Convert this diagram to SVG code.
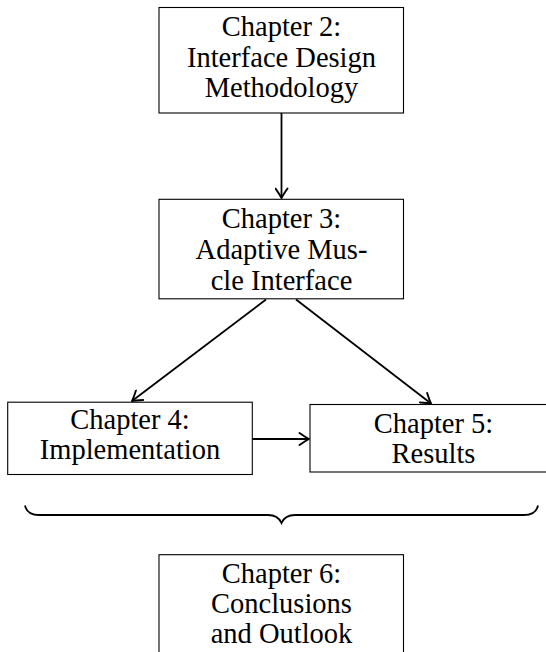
<svg xmlns="http://www.w3.org/2000/svg" width="546" height="652" viewBox="0 0 546 652">
<style>
.box{fill:#fff;stroke:#000;stroke-width:1.1}
.t{font-family:'Liberation Serif','Times New Roman',serif;font-size:28.5px;fill:#000;text-anchor:middle}
.edge{fill:none;stroke:#000;stroke-width:1.8}
</style>
<defs>
<marker id="arr" markerUnits="userSpaceOnUse" markerWidth="14" markerHeight="14" viewBox="-11 -7 14 14" refX="0" refY="0" orient="auto">
<path d="M-9.5,-6 Q-3,-1.5 0,0 Q-3,1.5 -9.5,6" fill="none" stroke="#000" stroke-width="1.9" stroke-linecap="round" stroke-linejoin="round"/>
</marker>
</defs>
<rect width="546" height="652" fill="#fff"/>
<g id="connectors">
<line class="edge" x1="281.5" y1="113" x2="281.5" y2="198" marker-end="url(#arr)"/>
<line class="edge" x1="266" y1="299.5" x2="132" y2="401" marker-end="url(#arr)"/>
<line class="edge" x1="296" y1="299.5" x2="431" y2="403.5" marker-end="url(#arr)"/>
<line class="edge" x1="252.5" y1="439" x2="309" y2="439" marker-end="url(#arr)"/>
<path id="brace" class="edge" d="M25,505.5 Q27,515 39,515 L268,515 Q278,515 281.5,523 Q285,515 295,515 L524,515 Q536,515 538,505.5"/>
</g>
<g id="ch2">
<rect class="box" x="159" y="7.5" width="244.5" height="105.5"/>
<text class="t" x="281.5" y="36">Chapter 2:</text>
<text class="t" x="281.5" y="66.5">Interface Design</text>
<text class="t" x="281.5" y="97">Methodology</text>
</g>
<g id="ch3">
<rect class="box" x="159" y="199.3" width="244.5" height="99.5"/>
<text class="t" x="281.5" y="228">Chapter 3:</text>
<text class="t" x="281.5" y="258.5">Adaptive Mus-</text>
<text class="t" x="281.5" y="289.5">cle Interface</text>
</g>
<g id="ch4">
<rect class="box" x="7.7" y="402.2" width="244.6" height="72.3"/>
<text class="t" x="130" y="429">Chapter 4:</text>
<text class="t" x="130" y="459">Implementation</text>
</g>
<g id="ch5">
<rect class="box" x="310" y="404.5" width="247" height="67.5"/>
<text class="t" x="433.5" y="432.5">Chapter 5:</text>
<text class="t" x="433.5" y="462.5">Results</text>
</g>
<g id="ch6">
<rect class="box" x="159" y="554.7" width="244.5" height="110"/>
<text class="t" x="281.5" y="583">Chapter 6:</text>
<text class="t" x="281.5" y="613">Conclusions</text>
<text class="t" x="281.5" y="643">and Outlook</text>
</g>
</svg>
